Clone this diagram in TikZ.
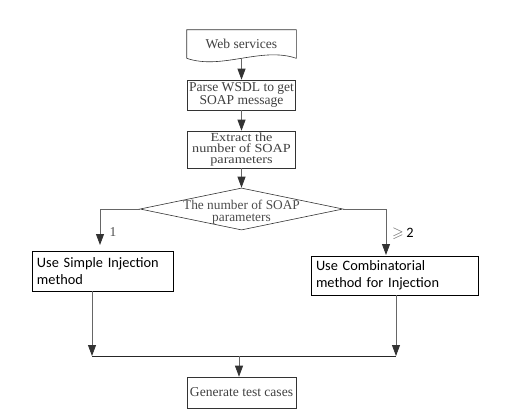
\documentclass[tikz,border=0pt]{standalone}
\usepackage{amssymb}
\usepackage{fontspec}
\setmainfont{Liberation Serif}
\newfontfamily\cbfont{Carlito}
\newfontfamily\wdfont[FakeStretch=1.15]{Liberation Serif}
\usetikzlibrary{arrows.meta,shapes.geometric}
\tikzset{
  bx/.style={rectangle,draw=black!80,line width=.6pt,text=black!75,inner sep=1pt,align=center,font=\fontsize{13.6}{11.8}\selectfont},
  cb/.style={rectangle,draw=black,line width=.7pt,inner xsep=5bp,inner ysep=2bp,align=left,font=\cbfont\fontsize{14.4}{17}\selectfont},
  dc/.style={diamond,draw=black!80,line width=.6pt,inner sep=0pt},
  lnk/.style={draw=black!85,line width=.6pt},
  msg/.style={-{Triangle[length=11bp,width=8bp,color=black!80]},line width=.8pt,draw=black!60},
  lb/.style={font=\fontsize{13.6}{13}\selectfont,text=black!70},
}
\begin{document}
\begin{tikzpicture}[x=1bp,y=-1bp]
\useasboundingbox (0,0) rectangle (514,418);
% ---------------- input and preparation
\node[bx,draw=none,minimum width=109bp,minimum height=28bp] (web) at (241.5,44) {Web services};
\draw[black!80,line width=.6pt] (web.south west) -- (web.north west) -- (web.north east)
  -- (web.south east) .. controls +(-35,-12) and +(35,12) .. (web.south west);
\node[bx,minimum width=108bp,minimum height=30bp] (wsdl) at (241.5,95) {Parse WSDL to get\\SOAP message};
\node[bx,minimum width=108bp,minimum height=37bp,font=\wdfont\fontsize{12.4}{11.4}\selectfont] (nsp) at (241.5,149.5)
  {Extract the\\number of SOAP\\parameters};
\draw[msg] (web.south) -- (wsdl);
\draw[msg] (wsdl) -- (nsp);
% ---------------- decision
\node[dc,minimum width=203bp,minimum height=42bp] (dec) at (241.5,209) {};
\node[lb,align=center,font=\fontsize{13.4}{12}\selectfont] (dect) at (241.5,212.5) {The number of SOAP\\parameters};
\draw[msg] (nsp) -- (dec);
\coordinate (lt) at (100,245);
\coordinate (rt) at (386,255);
\draw[msg] (dec.west) -| (lt);
\draw[msg] (dec.east) -| (rt);
\node[lb] (one) at (113,232) {1};
\node[anchor=west,inner sep=0pt,font=\fontsize{15}{15}\selectfont] (two) at (392,234)
  {\textcolor{black!60}{$\geqslant$}\,{\cbfont\fontsize{14.4}{17}\selectfont 2}};
% ---------------- the two methods
\node[cb,text width=131bp,minimum height=40bp] (sim) at (102.5,271) {Use Simple Injection\\method};
\node[cb,text width=157bp,minimum height=39bp] (cmb) at (394.5,275.5) {Use Combinatorial\\method for Injection};
% ---------------- join and output
\coordinate (jl) at (92,356);
\coordinate (jr) at (396,356);
\coordinate (jm) at (239,356);
\draw[msg] (sim.south -| jl) -- (jl);
\draw[msg] (cmb.south -| jr) -- (jr);
\draw[lnk] (jl) -- (jr);
\node[bx,minimum width=109bp,minimum height=31bp] (gen) at (241.5,392.5) {Generate test cases};
\draw[msg] (jm) -- (jm |- gen.north);
\end{tikzpicture}
\end{document}
